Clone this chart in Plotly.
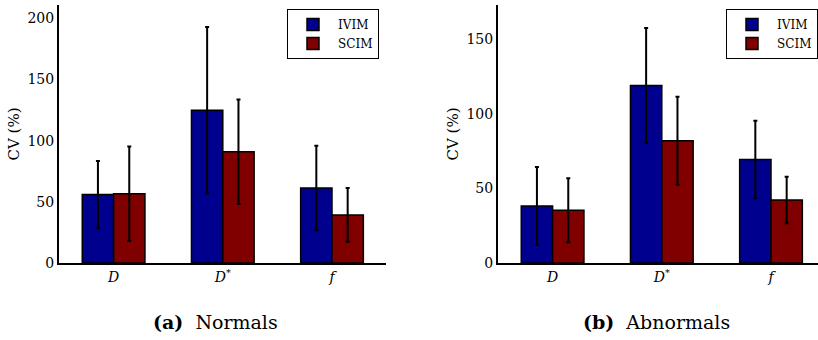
import plotly.graph_objects as go

categories = ["<i>D</i>", "<i>D</i><sup>*</sup>", "<i>f</i>"]
series_names = ["IVIM", "SCIM"]
colors = ["#00008F", "#800000"]

normals_ivim = [56.0, 125.0, 61.3]
normals_ivim_err = [27.5, 68.0, 34.6]
normals_scim = [56.7, 91.0, 39.3]
normals_scim_err = [38.6, 42.7, 22.0]

abnormals_ivim = [38.3, 119.0, 69.4]
abnormals_ivim_err = [26.0, 38.6, 26.0]
abnormals_scim = [35.4, 82.0, 42.3]
abnormals_scim_err = [21.5, 29.5, 15.6]

left_yticks = [0, 50, 100, 150, 200]
right_yticks = [0, 50, 100, 150]
captions = ["<b>(a)</b>  Normals", "<b>(b)</b>  Abnormals"]

FONT = "DejaVu Serif"
W, H = 818, 340
MT, MB = 5, 77
plot_h = H - MT - MB

fig = go.Figure()

panels = [
    ("x", "y", "legend", [(normals_ivim, normals_ivim_err), (normals_scim, normals_scim_err)]),
    ("x2", "y2", "legend2", [(abnormals_ivim, abnormals_ivim_err), (abnormals_scim, abnormals_scim_err)]),
]
for xa, ya, leg, series in panels:
    for (vals, errs), name, col in zip(series, series_names, colors):
        fig.add_trace(go.Bar(
            x=categories, y=vals, name=name, xaxis=xa, yaxis=ya, legend=leg,
            marker=dict(color=col, line=dict(color="black", width=1.5)),
            error_y=dict(type="data", array=errs, visible=True, color="black",
                         thickness=2, width=2),
        ))

px_per_cat = 109.2
left_x0, left_x1 = 59, 386
right_x0, right_x1 = 498, 818

axis_common = dict(showline=True, linecolor="black", linewidth=2, ticks="",
                   showgrid=False, zeroline=False, automargin=False,
                   tickfont=dict(family=FONT, size=14, color="black"))

def legend_at(px):
    return dict(xref="paper", yref="paper", x=px / W, y=(H - MB - 9) / plot_h,
                xanchor="left", yanchor="top", bgcolor="white", bordercolor="black",
                borderwidth=1, font=dict(family=FONT, size=12, color="black"),
                tracegroupgap=0, itemwidth=40)

fig.update_layout(
    width=W, height=H,
    margin=dict(l=0, r=0, t=MT, b=MB, autoexpand=False),
    plot_bgcolor="white", paper_bgcolor="white",
    barmode="group", bargap=0.426, bargroupgap=0,
    font=dict(family=FONT, color="black"),
    xaxis=dict(domain=[left_x0 / W, left_x1 / W], anchor="y",
               range=[-0.5, -0.5 + (left_x1 - left_x0) / px_per_cat], **axis_common),
    yaxis=dict(domain=[0, 1], anchor="x", range=[0, 211], tickvals=left_yticks,
               title=dict(text="CV (%)", font=dict(family=FONT, size=15, color="black"), standoff=4),
               **axis_common),
    xaxis2=dict(domain=[right_x0 / W, right_x1 / W], anchor="y2",
                range=[-0.5, -0.5 + (right_x1 - right_x0) / px_per_cat], **axis_common),
    yaxis2=dict(domain=[0, 1], anchor="x2", range=[0, 173], tickvals=right_yticks,
                title=dict(text="CV (%)", font=dict(family=FONT, size=15, color="black"), standoff=4),
                **axis_common),
    legend=legend_at(287),
    legend2=legend_at(726),
)

cap_y = (H - MB - 322) / plot_h
fig.add_annotation(text=captions[0], x=215 / W, y=cap_y, xref="paper", yref="paper",
                   showarrow=False, xanchor="center", yanchor="middle",
                   font=dict(family=FONT, size=19, color="black"))
fig.add_annotation(text=captions[1], x=656 / W, y=cap_y, xref="paper", yref="paper",
                   showarrow=False, xanchor="center", yanchor="middle",
                   font=dict(family=FONT, size=19, color="black"))

fig.write_html("out.html")
